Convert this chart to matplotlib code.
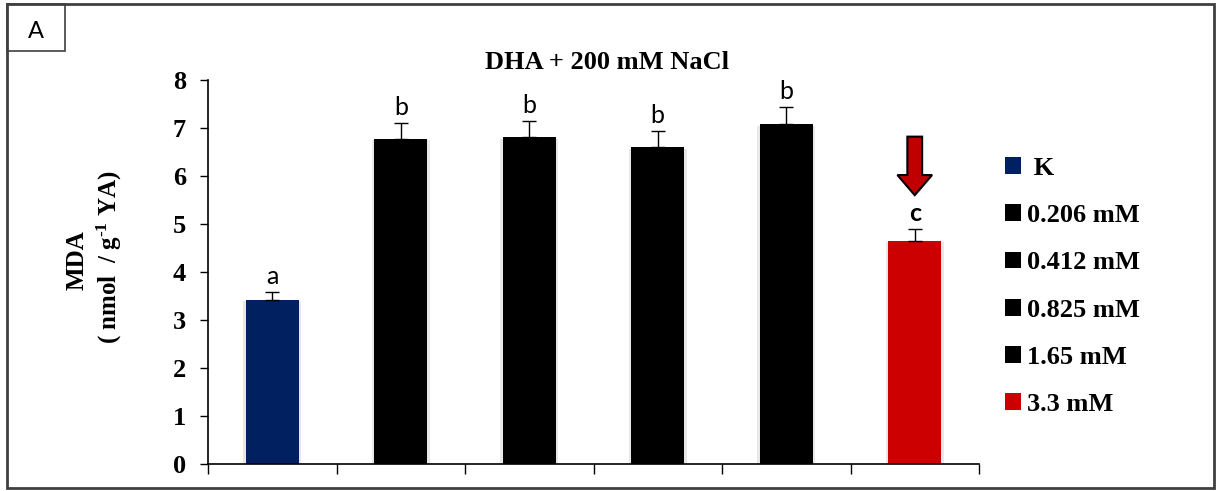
import matplotlib
matplotlib.use("Agg")
import matplotlib.pyplot as plt
import matplotlib.patheffects as pe
from matplotlib.patches import Patch, Rectangle, FancyArrow

categories = ["K", "0.206 mM", "0.412 mM", "0.825 mM", "1.65 mM", "3.3 mM"]
values = [3.42, 6.77, 6.81, 6.60, 7.08, 4.65]
errors = [0.16, 0.33, 0.34, 0.34, 0.36, 0.25]
letters = ["a", "b", "b", "b", "b", "c"]
colors = ["#002060", "#000000", "#000000", "#000000", "#000000", "#CC0000"]
yticks = [0, 1, 2, 3, 4, 5, 6, 7, 8]

plt.rcParams["mathtext.fontset"] = "custom"
plt.rcParams["mathtext.rm"] = "Liberation Serif:bold"
plt.rcParams["mathtext.bf"] = "Liberation Serif:bold"
plt.rcParams["mathtext.it"] = "Liberation Serif:bold:italic"

W, H = 1217, 491
fig = plt.figure(figsize=(W / 100, H / 100), dpi=100)

def fx(px):
    return px / W

def fy(py):
    return 1 - py / H

ax = fig.add_axes([fx(208), fy(464), fx(979) - fx(208), fy(80) - fy(464)])

x = list(range(len(categories)))
bars = ax.bar(x, values, width=0.41, color=colors, zorder=2)
shadow = [pe.SimplePatchShadow(offset=(2, -1), shadow_rgbFace="gray", alpha=0.18),
          pe.SimplePatchShadow(offset=(-2, -1), shadow_rgbFace="gray", alpha=0.18),
          pe.Normal()]
for b in bars:
    b.set_path_effects(shadow)
ax.errorbar(x, values, yerr=[[0] * len(values), errors], fmt="none",
            ecolor="black", elinewidth=1, capsize=5, capthick=1, zorder=3)

serif = "Liberation Serif"
sans = ["Lato", "DejaVu Sans"]
for i, (v, e, l) in enumerate(zip(values, errors, letters)):
    ax.text(i, v + e + 0.08, l, ha="center", va="bottom", fontsize=18,
            family=sans, fontweight="bold" if l == "c" else "normal")

ax.set_xlim(-0.5, len(categories) - 0.5)
ax.set_ylim(0, 8)
ax.set_yticks(yticks)
ax.set_yticklabels([str(t) for t in yticks], family=serif, fontweight="bold", fontsize=19)
ax.set_xticks([i - 0.5 for i in range(len(categories) + 1)])
ax.set_xticklabels([])
ax.tick_params(axis="y", direction="out", length=6, width=1, pad=10)
ax.tick_params(axis="x", direction="out", length=7, width=1)
for s in ["top", "right"]:
    ax.spines[s].set_visible(False)
for s in ["left", "bottom"]:
    ax.spines[s].set_linewidth(1.2)

ax.set_title("DHA + 200 mM NaCl", family=serif, fontweight="bold", fontsize=19,
             pad=8, x=(607 - 208) / (979 - 208))

# arrow above the 3.3 mM bar
ax.add_patch(FancyArrow(5, 6.82, 0, -1.22, width=0.115, head_width=0.27,
                        head_length=0.42, length_includes_head=True,
                        fc="#C00000", ec="black", lw=1.5, zorder=4))

# y label
fig.text(fx(77), fy(260), "MDA", rotation=90, ha="center", va="center",
         family=serif, fontweight="bold", fontsize=18)
fig.text(fx(109), fy(257), r"( nmol  / g$^{\text{-1}}$ YA)", rotation=90,
         ha="center", va="center", family=serif, fontweight="bold", fontsize=18)

# legend
handles = [Patch(facecolor=c) for c in colors]
labels = [(" " + c) if c == "K" else c for c in categories]
fig.legend(handles, labels, loc="upper left", bbox_to_anchor=(fx(981), fy(133)),
           frameon=False, handlelength=0.6, handleheight=0.6, handletextpad=0.25,
           labelspacing=0.92, prop={"family": serif, "weight": "bold", "size": 19})

# outer frame and panel label
fig.add_artist(Rectangle((fx(7), fy(488)), fx(1214) - fx(7), fy(4) - fy(488),
                         transform=fig.transFigure, fill=False, ec="#404040", lw=2))
fig.add_artist(Rectangle((fx(7), fy(51)), fx(65) - fx(7), fy(4) - fy(51),
                         transform=fig.transFigure, fill=False, ec="#404040", lw=1.2))
fig.text(fx(36), fy(32), "A", ha="center", va="center", fontsize=17, family=sans)

fig.savefig("out.png", dpi=100)
